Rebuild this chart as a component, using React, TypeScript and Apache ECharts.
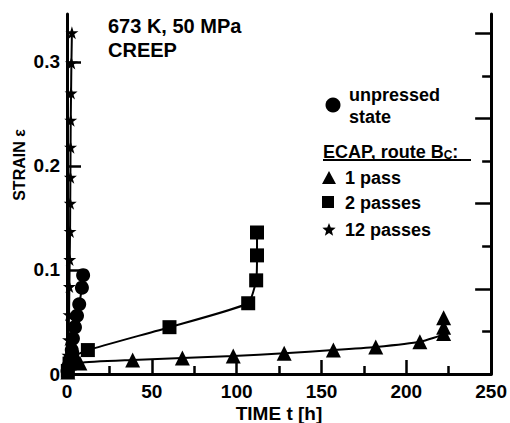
import React, { useEffect, useRef } from "react";
import * as echarts from "echarts";

// ---- data (time t [h], strain) ----
const unpressed: [number, number][] = [
  [0.3, 0.003], [1, 0.008], [1.8, 0.014], [2.8, 0.023], [3.5, 0.034],
  [4.7, 0.045], [5.9, 0.056], [7.2, 0.067], [8.8, 0.083], [9.5, 0.095],
];
const onePass: [number, number][] = [
  [0.5, 0.002], [7.6, 0.0106], [38.7, 0.0135], [68, 0.0154], [98, 0.0173],
  [128, 0.02], [157, 0.023], [182, 0.026], [208, 0.031], [222, 0.039],
  [222, 0.045], [222, 0.054],
];
const twoPasses: [number, number][] = [
  [0.5, 0.003], [1.5, 0.01], [3, 0.016], [12.3, 0.023], [60.4, 0.045],
  [106.8, 0.068], [111.5, 0.09], [112, 0.114], [112, 0.136],
];
const twelvePasses: [number, number][] = [
  [0.3, 0.005], [0.6, 0.018], [0.9, 0.033], [1.2, 0.057], [1.4, 0.084],
  [1.6, 0.11], [1.8, 0.137], [1.9, 0.164], [2.0, 0.189], [2.1, 0.218],
  [2.2, 0.244], [2.4, 0.27], [2.6, 0.299], [2.9, 0.328],
];
const yTickValues = [0, 0.1, 0.2, 0.3];
const rightMajor = [2, 4, 6, 8];
const rightMinor = [1, 3, 5, 7];

const FONT = '"Liberation Sans", Arial, Helvetica, sans-serif';
const STAR = "path://M50,0 L61,35 L98,35 L68,57 L79,91 L50,70 L21,91 L32,57 L2,35 L39,35 Z";

function starPoints(cx: number, cy: number, R: number, r: number) {
  const pts: number[][] = [];
  for (let i = 0; i < 10; i++) {
    const a = -Math.PI / 2 + (i * Math.PI) / 5;
    const rad = i % 2 === 0 ? R : r;
    pts.push([cx + rad * Math.cos(a), cy + rad * Math.sin(a)]);
  }
  return pts;
}

export default function App() {
  const ref = useRef<HTMLDivElement>(null);
  useEffect(() => {
    if (!ref.current) return;
    const chart = echarts.init(ref.current, undefined, { renderer: "svg" });
    const black = "#000";
    const lbl = { color: black, fontSize: 19, fontWeight: "bold" as const, fontFamily: FONT };
    const lineSeries = (name: string, data: [number, number][], symbol: string, size: number) => ({
      name,
      type: "line",
      data,
      symbol,
      symbolSize: size,
      smooth: 0.15,
      lineStyle: { color: black, width: 2 },
      itemStyle: { color: black },
      z: 3,
    });
    chart.setOption({
      animation: false,
      backgroundColor: "#fff",
      grid: { left: 67, right: 17, top: 14, bottom: 49, containLabel: false },
      xAxis: {
        type: "value",
        min: 0,
        max: 250,
        interval: 50,
        axisLine: { show: true, lineStyle: { color: black, width: 3 } },
        axisTick: { show: true, inside: true, length: 14, lineStyle: { color: black, width: 2.5 } },
        minorTick: { show: true, splitNumber: 2, length: 8, lineStyle: { color: black, width: 2.5 } },
        splitLine: { show: false },
        axisLabel: { ...lbl, margin: 8 },
      },
      yAxis: [
        {
          type: "value",
          position: "left",
          min: 0,
          max: 0.346,
          axisLine: { show: true, lineStyle: { color: black, width: 3 } },
          axisTick: { show: true, inside: true, length: 14, customValues: yTickValues, lineStyle: { color: black, width: 2.5 } },
          splitLine: { show: false },
          axisLabel: {
            ...lbl,
            margin: 7,
            customValues: yTickValues,
            formatter: (v: number) => (v === 0 ? "0" : v.toFixed(1)),
          },
        },
        {
          type: "value",
          position: "right",
          min: 0,
          max: 8.45,
          axisLine: { show: true, onZero: false, lineStyle: { color: black, width: 3 } },
          axisTick: { show: true, inside: true, length: 16, customValues: rightMajor, lineStyle: { color: black, width: 2.5 } },
          splitLine: { show: false },
          axisLabel: { show: false },
        },
        {
          type: "value",
          position: "right",
          min: 0,
          max: 8.45,
          axisLine: { show: false },
          axisTick: { show: true, inside: true, length: 9, customValues: rightMinor, lineStyle: { color: black, width: 2.5 } },
          splitLine: { show: false },
          axisLabel: { show: false },
        },
      ],
      series: [
        lineSeries("unpressed state", unpressed, "circle", 14),
        lineSeries("1 pass", onePass, "triangle", 15),
        lineSeries("2 passes", twoPasses, "rect", 14),
        lineSeries("12 passes", twelvePasses, STAR, 13),
      ],
      graphic: [
        {
          type: "text",
          x: 19,
          y: 165,
          rotation: Math.PI / 2,
          style: {
            text: "STRAIN ε",
            fill: black,
            font: `bold 16px ${FONT}`,
            textAlign: "center",
            textVerticalAlign: "middle",
          },
        },
        {
          type: "text",
          x: 279,
          y: 413,
          style: { text: "TIME t [h]", fill: black, font: `bold 19px ${FONT}`, textAlign: "center", textVerticalAlign: "middle" },
        },
        {
          type: "text",
          x: 108,
          y: 26,
          style: { text: "673 K, 50 MPa", fill: black, font: `bold 20px ${FONT}`, textAlign: "left", textVerticalAlign: "middle" },
        },
        {
          type: "text",
          x: 108,
          y: 50,
          style: { text: "CREEP", fill: black, font: `bold 20px ${FONT}`, textAlign: "left", textVerticalAlign: "middle" },
        },
        { type: "circle", shape: { cx: 333, cy: 105, r: 7.5 }, style: { fill: black } },
        {
          type: "text",
          x: 349,
          y: 95,
          style: { text: "unpressed", fill: black, font: `bold 18px ${FONT}`, textAlign: "left", textVerticalAlign: "middle" },
        },
        {
          type: "text",
          x: 349,
          y: 117,
          style: { text: "state", fill: black, font: `bold 18px ${FONT}`, textAlign: "left", textVerticalAlign: "middle" },
        },
        {
          type: "text",
          x: 323,
          y: 152,
          style: {
            text: "ECAP, route B{s|C}:",
            rich: { s: { fill: black, font: `bold 12px ${FONT}`, verticalAlign: "bottom" } },
            fill: black,
            font: `bold 18px ${FONT}`,
            textAlign: "left",
            textVerticalAlign: "middle",
          },
        },
        { type: "line", shape: { x1: 323, y1: 160, x2: 471, y2: 160 }, style: { stroke: black, lineWidth: 2 } },
        { type: "polygon", shape: { points: [[329, 171], [322, 184], [336, 184]] }, style: { fill: black } },
        {
          type: "text",
          x: 345,
          y: 178,
          style: { text: "1 pass", fill: black, font: `bold 18px ${FONT}`, textAlign: "left", textVerticalAlign: "middle" },
        },
        { type: "rect", shape: { x: 322, y: 196, width: 12, height: 12 }, style: { fill: black } },
        {
          type: "text",
          x: 345,
          y: 203,
          style: { text: "2 passes", fill: black, font: `bold 18px ${FONT}`, textAlign: "left", textVerticalAlign: "middle" },
        },
        { type: "polygon", shape: { points: starPoints(329, 230, 7, 3) }, style: { fill: black } },
        {
          type: "text",
          x: 345,
          y: 230,
          style: { text: "12 passes", fill: black, font: `bold 18px ${FONT}`, textAlign: "left", textVerticalAlign: "middle" },
        },
      ],
    });
    return () => chart.dispose();
  }, []);
  return (
    <div
      ref={ref}
      style={{ position: "fixed", left: 0, top: 0, width: 510, height: 423, background: "#fff" }}
    />
  );
}
